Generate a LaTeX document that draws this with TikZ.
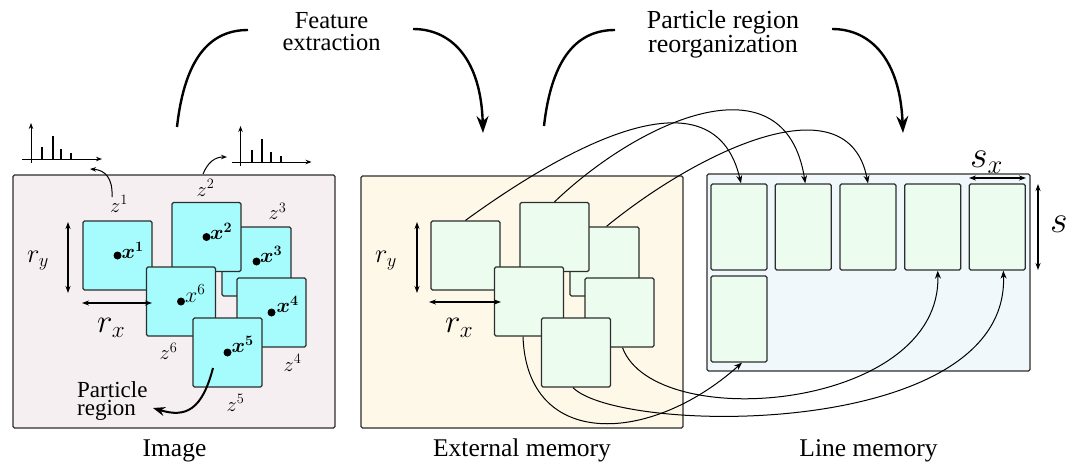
\RequirePackage{fix-cm}
\documentclass[tikz,border=0pt]{standalone}
\usepackage{bm}
\usepackage{fontspec}
\setmainfont{Liberation Serif}
\usetikzlibrary{arrows.meta,calc}

\definecolor{imgbg}{RGB}{245,239,241}
\definecolor{membg}{RGB}{254,248,232}
\definecolor{linebg}{RGB}{241,248,252}
\definecolor{patchcyan}{RGB}{166,252,252}
\definecolor{patchgreen}{RGB}{236,253,240}
\definecolor{edgegray}{RGB}{45,45,45}

\tikzset{
  panelbox/.style={draw=edgegray, line width=1.1pt, rounded corners=1.5pt, inner sep=0pt},
  patchbox/.style={draw=edgegray, line width=1.3pt, rounded corners=1.5pt,
    minimum width=69pt, minimum height=69pt, inner sep=0pt},
  slotbox/.style={draw=edgegray, line width=1.3pt, fill=patchgreen, rounded corners=1.5pt,
    minimum width=56pt, minimum height=86pt, inner sep=0pt},
  bigarc/.style={line width=2.4pt},
  bigarcarrow/.style={line width=2.4pt, -{Stealth[length=17pt,width=12pt]}},
  linkarrow/.style={line width=1pt, -{Stealth[length=8pt,width=6pt]}},
  tinyarrow/.style={line width=1pt, -{Stealth[length=6pt,width=4.5pt]}},
  dimarrow/.style={line width=1.1pt, {Stealth[length=7pt,width=5pt]}-{Stealth[length=7pt,width=5pt]}},
  caption/.style={font=\fontsize{25.5}{28}\selectfont, inner sep=0pt, anchor=base},
  steptext/.style={align=center, inner sep=0pt},
  zlabel/.style={font=\fontsize{20.5}{24}\selectfont, inner sep=0pt, anchor=base west},
  xlabel/.style={font=\fontsize{20.5}{24}\selectfont, inner sep=0pt, anchor=base west},
  rlabel/.style={inner sep=0pt, anchor=base west},
  dot/.style={fill=black},
  bar/.style={line width=2pt},
  axis/.style={line width=1pt, -{Stealth[length=6pt,width=4.5pt]}}
}

\begin{document}
\begin{tikzpicture}[x=1pt,y=-1pt]
\useasboundingbox (0,0) rectangle (1067,464);

% ---------- panels ----------
\node[panelbox, fill=imgbg, minimum width=322pt, minimum height=253pt] (img) at (174,301.5) {};
\node[panelbox, fill=membg, minimum width=322pt, minimum height=252pt] (ext) at (522,302) {};
\node[panelbox, fill=linebg, minimum width=323pt, minimum height=197pt] (lin) at (868.5,272.5) {};

\node[caption] (capimg) at (174.5,456.5) {Image};
\node[caption] (capext) at (522,456.5) {External memory};
\node[caption] (caplin) at (868.5,456.5) {Line memory};

% ---------- image panel: particle regions ----------
\node[patchbox, fill=patchcyan] (c1) at (117.5,255.5) {};
\node[patchbox, fill=patchcyan] (c3) at (256.5,261.5) {};
\node[patchbox, fill=patchcyan] (c2) at (206.5,237) {};
\node[patchbox, fill=patchcyan] (c6) at (181,301.5) {};
\node[patchbox, fill=patchcyan] (c4) at (271.5,312.5) {};
\node[patchbox, fill=patchcyan] (c5) at (227.5,352.5) {};

\foreach \p in {c1,c2,c3,c4,c5,c6} {\fill[dot] (\p) circle (4pt);}

\node[xlabel] (lx1) at (121.5,258.5) {$\bm{x^1}$};
\node[xlabel] (lx2) at (210,239.5) {$\bm{x^2}$};
\node[xlabel] (lx3) at (260,262.5) {$\bm{x^3}$};
\node[xlabel, font=\fontsize{22}{26}\selectfont] (lx6) at (185,302.5) {$x^6$};
\node[xlabel] (lx4) at (276.5,312.5) {$\bm{x^4}$};
\node[xlabel] (lx5) at (231.5,352.5) {$\bm{x^5}$};

\node[zlabel] (z1) at (110,212) {$z^1$};
\node[zlabel] (z2) at (196.5,196) {$z^2$};
\node[zlabel] (z3) at (268.5,219.5) {$z^3$};
\node[zlabel] (z6) at (159.5,359.5) {$z^6$};
\node[zlabel] (z4) at (283.5,371) {$z^4$};
\node[zlabel] (z5) at (226.5,411) {$z^5$};

% size of a region
\draw[dimarrow] (68,222) -- (68,293);
\node[rlabel, font=\fontsize{26.5}{30}\selectfont] (ry1) at (27,262.5) {$r_y$};
\draw[dimarrow] (82,303) -- (152,303);
\node[rlabel, font=\fontsize{33}{36}\selectfont] (rx1) at (97,332.5) {$r_x$};

% particle region pointer
\node[font=\fontsize{23}{18.5}\selectfont, align=left, inner sep=0pt, anchor=north west] (prl) at (77,381) {Particle\\region};
\coordinate (pr0) at (213,368);
\coordinate (pr1) at (153,408);
\draw[line width=2pt, -{Stealth[length=12pt,width=9pt]}] (pr0) .. controls (202,410) and (186,418) .. (pr1);

% ---------- histograms of features ----------
\begin{scope}
  \draw[axis] (31,163) -- (31,123);
  \draw[axis] (22,159) -- (102,159);
  \draw[bar] (42,159) -- (42,147);
  \draw[bar] (52.5,159) -- (52.5,136);
  \draw[bar] (61,159) -- (61,149);
  \draw[bar] (71,159) -- (71,153);
\end{scope}
\begin{scope}[shift={(209.5,3)}]
  \draw[axis] (31,163) -- (31,123);
  \draw[axis] (22,159) -- (102,159);
  \draw[bar] (42,159) -- (42,147);
  \draw[bar] (52.5,159) -- (52.5,136);
  \draw[bar] (61,159) -- (61,149);
  \draw[bar] (71,159) -- (71,153);
\end{scope}
\coordinate (h0) at (112,197);
\coordinate (h1) at (90,169);
\coordinate (h3) at (203,174);
\coordinate (h2) at (227,157);
\draw[tinyarrow] (h0) .. controls (113,178) and (105,170) .. (h1);
\draw[tinyarrow] (h3) .. controls (208,162) and (215,157) .. (h2);

% ---------- external memory ----------
\node[patchbox, fill=patchgreen] (m1) at (465.5,255.5) {};
\node[patchbox, fill=patchgreen] (m3) at (604.5,261.5) {};
\node[patchbox, fill=patchgreen] (m2) at (554.5,237) {};
\node[patchbox, fill=patchgreen] (m6) at (529,301.5) {};
\node[patchbox, fill=patchgreen] (m4) at (619.5,312.5) {};
\node[patchbox, fill=patchgreen] (m5) at (576,352.5) {};

\draw[dimarrow] (417,222) -- (417,293);
\node[rlabel, font=\fontsize{26.5}{30}\selectfont] (ry2) at (375,262.5) {$r_y$};
\draw[dimarrow] (429,302) -- (501,302);
\node[rlabel, font=\fontsize{33}{36}\selectfont] (rx2) at (445,332.5) {$r_x$};

% ---------- line memory ----------
\node[slotbox] (r1) at (739,227) {};
\node[slotbox] (r2) at (803.3,227) {};
\node[slotbox] (r3) at (868,227) {};
\node[slotbox] (r4) at (932.7,227) {};
\node[slotbox] (r5) at (997.3,227) {};
\node[slotbox] (r6) at (739,319) {};

\draw[dimarrow] (969,178) -- (1026,178);
\node[rlabel, font=\fontsize{38}{42}\selectfont] (sx) at (970,167.5) {$s_x$};
\draw[dimarrow] (1038,184) -- (1038,270);
\node[rlabel, font=\fontsize{38}{42}\selectfont] (sy) at (1050,232.5) {$s_y$};

% ---------- reorganization links ----------
\draw[linkarrow] (m1.north) .. controls (590,130) and (716,76) .. ([xshift=2pt]r1.north);
\draw[linkarrow] (m2.north) .. controls (640,120) and (785,55) .. ([xshift=2pt]r2.north);
\draw[linkarrow] ([xshift=2pt]m3.north) .. controls (700,150) and (848,80) .. (r3.north);
\draw[linkarrow] ([xshift=-6pt]m6.south) .. controls (527,450) and (650,445) .. ([xshift=3pt]r6.south);
\draw[linkarrow] ([xshift=3pt]m4.south) .. controls (655,435) and (942,410) .. ([xshift=5pt]r4.south);
\draw[linkarrow] ([xshift=-3pt]m5.south) .. controls (620,435) and (1010,440) .. ([xshift=6pt]r5.south);

% ---------- processing steps ----------
\node[steptext, font=\fontsize{24.5}{21.5}\selectfont] (fe) at (331.5,31.5) {Feature\\extraction};
\coordinate (fe1) at (177,127);
\coordinate (fe2) at (248,30);
\coordinate (fe3) at (413,29);
\coordinate (fe4) at (483,133);
\draw[bigarc] (fe1) .. controls (185,55) and (212,30) .. (fe2);
\draw[bigarcarrow] (fe3) .. controls (452,29) and (481,60) .. (fe4);

\node[steptext, font=\fontsize{26}{21}\selectfont] (pr) at (723,34) {Particle region\\reorganization};
\coordinate (pp1) at (544,126);
\coordinate (pp2) at (615,30);
\coordinate (pp3) at (832,29);
\coordinate (pp4) at (903,133);
\draw[bigarc] (pp1) .. controls (552,55) and (579,30) .. (pp2);
\draw[bigarcarrow] (pp3) .. controls (871,29) and (900,60) .. (pp4);
\end{tikzpicture}
\end{document}
